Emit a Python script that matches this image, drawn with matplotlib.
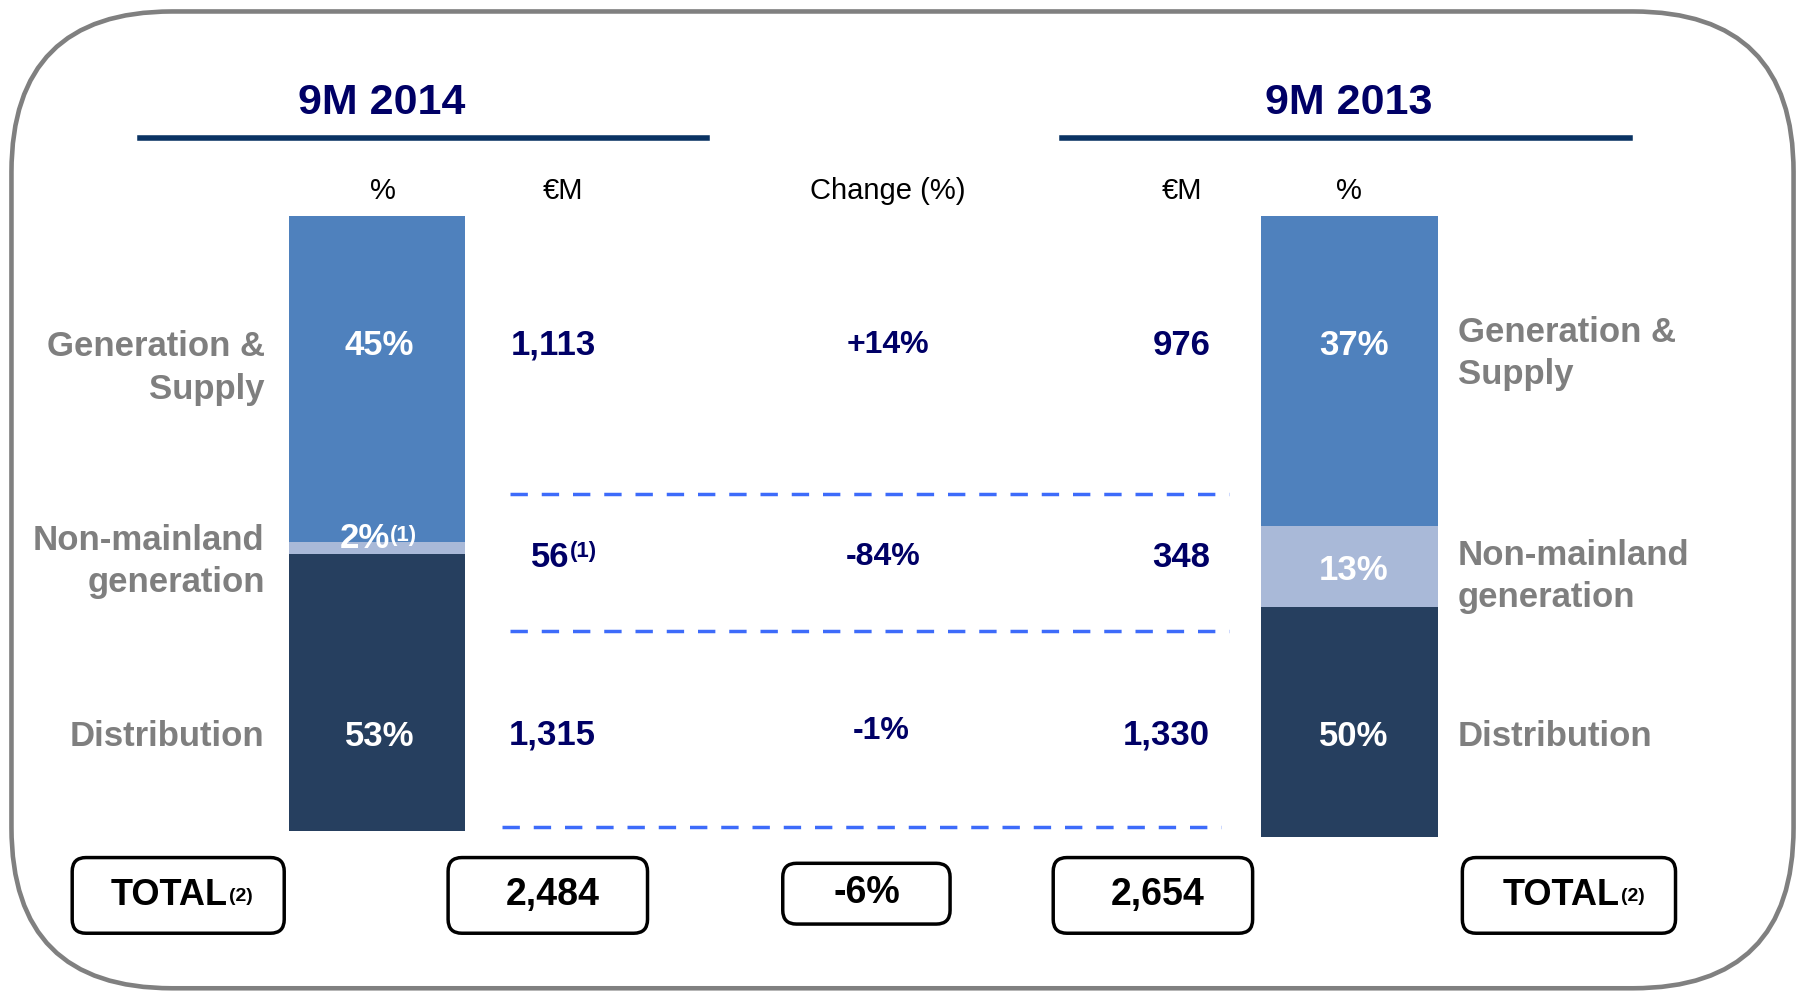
import matplotlib
matplotlib.use("Agg")
import matplotlib.pyplot as plt
from matplotlib.patches import FancyBboxPatch

# data
segments = ["Generation &\nSupply", "Non-mainland\ngeneration", "Distribution"]
share_2014 = [45, 2, 53]
share_2013 = [37, 13, 50]
eur_2014 = [1113, 56, 1315]
eur_2013 = [976, 348, 1330]
change_pct = [14, -84, -1]
total_2014 = 2484
total_2013 = 2654
total_change = -6

BLUE = "#4F81BD"
LIGHT = "#A9B9D8"
DARK = "#263F5F"
NAVY = "#000066"
GREY = "#7F7F7F"
DASH = "#3D6BFA"
ARIAL = ["Liberation Sans", "DejaVu Sans"]

W, H = 1568, 867  # layout units (slide pixels)
fig = plt.figure(figsize=(17.97, 9.94), dpi=100)


def frac(x0, y0, x1, y1):
    return [x0 / W, 1 - y1 / H, (x1 - x0) / W, (y1 - y0) / H]


# stacked bars, stacked in the same (odd) order as the original slide
bar_colors = [DARK, LIGHT, BLUE]
for shares, box in [(share_2014, (252, 188, 406, 725)), (share_2013, (1100, 188, 1255, 730))]:
    bax = fig.add_axes(frac(*box))
    bottom = 0
    for v, c in zip(shares, bar_colors):
        bax.bar(0, v, bottom=bottom, width=1, color=c, linewidth=0)
        bottom += v
    bax.set_xlim(-0.5, 0.5)
    bax.set_ylim(0, sum(shares))
    bax.axis("off")

ax = fig.add_axes([0, 0, 1, 1])
ax.set_xlim(0, W)
ax.set_ylim(H, 0)
ax.axis("off")
ax.patch.set_visible(False)

# outer rounded frame
ax.add_patch(FancyBboxPatch((10, 10), 1555, 852, boxstyle="round,pad=0,rounding_size=140",
                            fill=False, edgecolor="#808080", linewidth=3.3, zorder=1))

# titles and rules
ax.text(333, 90, "9M 2014", ha="center", va="center", fontsize=31, fontweight="bold",
        color=NAVY, family=ARIAL)
ax.text(1177, 90, "9M 2013", ha="center", va="center", fontsize=31, fontweight="bold",
        color=NAVY, family=ARIAL)
ax.plot([122, 617], [120, 120], color="#0A3363", linewidth=4)
ax.plot([927, 1422], [120, 120], color="#0A3363", linewidth=4)

# column headers
for x, s in [(334, "%"), (491, "€M"), (775, "Change (%)"), (1031, "€M"), (1177, "%")]:
    ax.text(x, 167, s, ha="center", va="center", fontsize=21, color="black", family=ARIAL)

row_y = [301, 486, 641]
left_lab_y = [321, 490, 642]
right_lab_y = [308, 503, 642]

for i, seg in enumerate(segments):
    ax.text(231, left_lab_y[i], seg, ha="right", va="center", fontsize=25, fontweight="bold",
            color=GREY, family=ARIAL, linespacing=1.35)
    ax.text(1272, right_lab_y[i], seg, ha="left", va="center", fontsize=25, fontweight="bold",
            color=GREY, family=ARIAL, linespacing=1.35)

# bar labels
ax.text(331, row_y[0], f"{share_2014[0]}%", ha="center", va="center", fontsize=25,
        fontweight="bold", color="white", family=ARIAL)
ax.text(340, 470, f"{share_2014[1]}%", ha="right", va="center", fontsize=25,
        fontweight="bold", color="white", family=ARIAL)
ax.text(340, 458, "(1)", ha="left", va="top", fontsize=16, fontweight="bold",
        color="white", family=ARIAL)
ax.text(331, 642, f"{share_2014[2]}%", ha="center", va="center", fontsize=25,
        fontweight="bold", color="white", family=ARIAL)
for v, y in zip(share_2013, [301, 498, 642]):
    ax.text(1181, y, f"{v}%", ha="center", va="center", fontsize=25,
            fontweight="bold", color="white", family=ARIAL)

# euro values
for i, v in enumerate(eur_2014):
    if i == 1:
        ax.text(497, row_y[i], f"{v:,}", ha="right", va="center", fontsize=25,
                fontweight="bold", color=NAVY, family=ARIAL)
        ax.text(497, 472, "(1)", ha="left", va="top", fontsize=16, fontweight="bold",
                color=NAVY, family=ARIAL)
    else:
        ax.text(520, row_y[i], f"{v:,}", ha="right", va="center", fontsize=25,
                fontweight="bold", color=NAVY, family=ARIAL)
for i, v in enumerate(eur_2013):
    ax.text(1056, row_y[i], f"{v:,}", ha="right", va="center", fontsize=25,
            fontweight="bold", color=NAVY, family=ARIAL)

# change column
for v, x, y in zip(change_pct, [775, 771, 769], [301, 486, 638]):
    ax.text(x, y, f"{v:+d}%", ha="center", va="center", fontsize=23,
            fontweight="bold", color=NAVY, family=ARIAL)

# dashed separators
for x0, x1, y in [(445, 1072, 431), (445, 1072, 550), (438, 1065, 721)]:
    ax.plot([x0, x1], [y, y], color=DASH, linewidth=2.5, linestyle=(0, (5, 4)))

# total boxes
boxes = [(63, 748, 248, 814), (391, 748, 565, 814), (683, 753, 829, 806),
         (919, 748, 1093, 814), (1276, 748, 1462, 814)]
for x0, y0, x1, y1 in boxes:
    ax.add_patch(FancyBboxPatch((x0, y0), x1 - x0, y1 - y0, boxstyle="round,pad=0,rounding_size=12",
                                fill=False, edgecolor="black", linewidth=2.5))

ax.text(199, 781, "TOTAL", ha="right", va="center", fontsize=26, fontweight="bold", family=ARIAL)
ax.text(200, 782, "(2)", ha="left", va="center", fontsize=14, fontweight="bold", family=ARIAL)
ax.text(1413, 781, "TOTAL", ha="right", va="center", fontsize=26, fontweight="bold", family=ARIAL)
ax.text(1414, 782, "(2)", ha="left", va="center", fontsize=14, fontweight="bold", family=ARIAL)
ax.text(482, 781, f"{total_2014:,}", ha="center", va="center", fontsize=27, fontweight="bold", family=ARIAL)
ax.text(756, 779, f"{total_change:d}%", ha="center", va="center", fontsize=27, fontweight="bold", family=ARIAL)
ax.text(1010, 781, f"{total_2013:,}", ha="center", va="center", fontsize=27, fontweight="bold", family=ARIAL)

fig.savefig("out.png", dpi=100, facecolor="white")
